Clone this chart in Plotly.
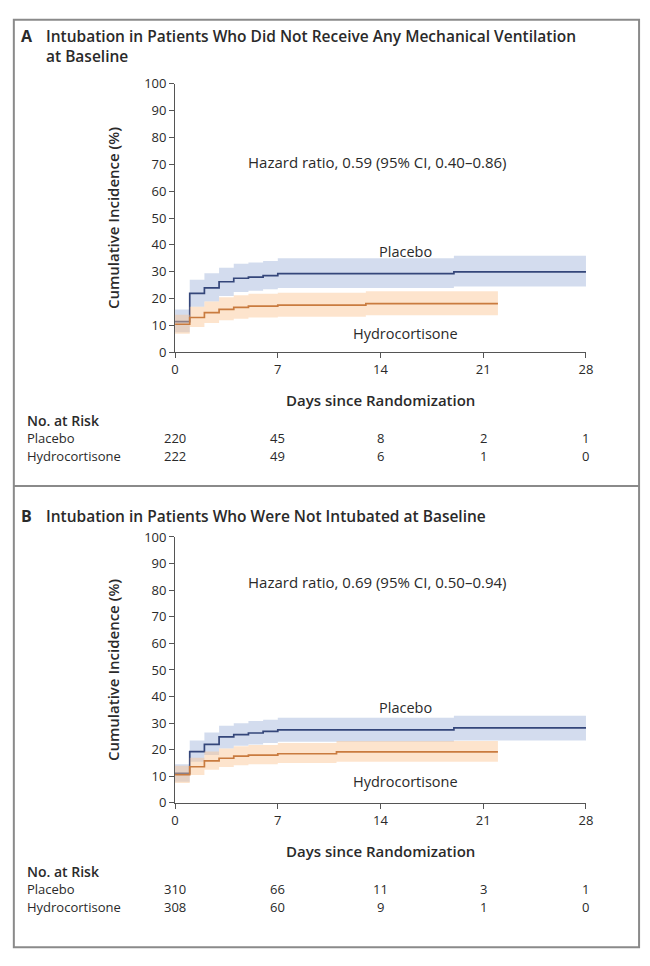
import plotly.graph_objects as go

W, H = 650, 966

# ---------------- DATA ----------------
days_ticks = [0, 7, 14, 21, 28]
y_ticks = [0, 10, 20, 30, 40, 50, 60, 70, 80, 90, 100]

# Panel A
a_plac_t = [0, 1, 2, 3, 4, 5, 6, 7, 19, 28]
a_plac_y = [11.5, 22.0, 24.0, 26.3, 27.6, 28.0, 28.6, 29.3, 30.0, 30.0]
a_plac_lo = [7.5, 17.0, 19.0, 21.0, 22.5, 23.0, 23.5, 24.0, 24.5, 24.5]
a_plac_hi = [16.0, 27.0, 29.5, 31.5, 33.0, 33.5, 34.0, 35.0, 36.0, 36.0]

a_hydro_t = [0, 1, 2, 3, 4, 5, 7, 13, 22]
a_hydro_y = [10.5, 13.0, 14.8, 16.0, 16.8, 17.2, 17.6, 18.2, 18.2]
a_hydro_lo = [7.0, 9.5, 11.0, 12.0, 12.5, 13.0, 13.3, 13.8, 13.8]
a_hydro_hi = [14.0, 17.0, 19.0, 20.5, 21.3, 21.8, 22.2, 22.8, 22.8]

# Panel B
b_plac_t = [0, 1, 2, 3, 4, 5, 6, 7, 19, 28]
b_plac_y = [11.1, 19.3, 22.0, 24.8, 25.7, 26.3, 26.9, 27.5, 28.2, 28.2]
b_plac_lo = [8.0, 15.5, 18.0, 20.5, 21.5, 22.0, 22.5, 23.0, 23.5, 23.5]
b_plac_hi = [14.5, 23.5, 26.5, 29.0, 30.0, 30.8, 31.3, 32.0, 32.8, 32.8]

b_hydro_t = [0, 1, 2, 3, 4, 5, 7, 11, 22]
b_hydro_y = [10.6, 13.6, 15.8, 16.8, 17.6, 18.0, 18.5, 19.2, 19.2]
b_hydro_lo = [7.5, 10.5, 12.5, 13.5, 14.2, 14.5, 15.0, 15.5, 15.5]
b_hydro_hi = [14.0, 17.0, 19.3, 20.5, 21.3, 21.8, 22.5, 23.3, 23.3]

risk_days = [0, 7, 14, 21, 28]
a_risk_plac = [220, 45, 8, 2, 1]
a_risk_hydro = [222, 49, 6, 1, 0]
b_risk_plac = [310, 66, 11, 3, 1]
b_risk_hydro = [308, 60, 9, 1, 0]

title_a = ["Intubation in Patients Who Did Not Receive Any Mechanical Ventilation", "at Baseline"]
title_b = "Intubation in Patients Who Were Not Intubated at Baseline"
hr_a = "Hazard ratio, 0.59 (95% CI, 0.40–0.86)"
hr_b = "Hazard ratio, 0.69 (95% CI, 0.50–0.94)"

# ---------------- STYLE ----------------
FONT = "Open Sans"
TXT = "#2a2a2a"
PLAC_LINE = "#34467a"
PLAC_FILL = "rgba(150,172,215,0.42)"
HYD_LINE = "#c97b3f"
HYD_FILL = "rgba(250,196,145,0.45)"
AX = "#555555"


def px(x):
    return x / W


def py(y):
    return 1 - y / H


fig = go.Figure()


def add_series(t, y, lo, hi, line_c, fill_c, xa, ya):
    fig.add_trace(go.Scatter(x=t, y=lo, mode="lines", line=dict(width=0, shape="hv"),
                             hoverinfo="skip", showlegend=False, xaxis=xa, yaxis=ya))
    fig.add_trace(go.Scatter(x=t, y=hi, mode="lines", line=dict(width=0, shape="hv"),
                             fill="tonexty", fillcolor=fill_c, hoverinfo="skip",
                             showlegend=False, xaxis=xa, yaxis=ya))
    fig.add_trace(go.Scatter(x=t, y=y, mode="lines", line=dict(color=line_c, width=1.7, shape="hv"),
                             showlegend=False, xaxis=xa, yaxis=ya))


add_series(a_plac_t, a_plac_y, a_plac_lo, a_plac_hi, PLAC_LINE, PLAC_FILL, "x", "y")
add_series(a_hydro_t, a_hydro_y, a_hydro_lo, a_hydro_hi, HYD_LINE, HYD_FILL, "x", "y")
add_series(b_plac_t, b_plac_y, b_plac_lo, b_plac_hi, PLAC_LINE, PLAC_FILL, "x2", "y2")
add_series(b_hydro_t, b_hydro_y, b_hydro_lo, b_hydro_hi, HYD_LINE, HYD_FILL, "x2", "y2")

xdom = [px(174), px(592)]
risk_dom = [px(171), px(618)]
ydom_a = [py(350), py(76)]
ydom_b = [py(809), py(538)]

xaxis_common = dict(range=[0, 28], tickvals=days_ticks, showgrid=False, zeroline=False,
                    showline=True, linecolor=AX, linewidth=1, ticks="outside", ticklen=5,
                    tickcolor=AX, tickfont=dict(family=FONT, size=13, color=TXT), fixedrange=True)
yaxis_common = dict(range=[0, 100], tickvals=y_ticks, showgrid=False, zeroline=False,
                    showline=True, linecolor=AX, linewidth=1, ticks="outside", ticklen=5,
                    tickcolor=AX, tickfont=dict(family=FONT, size=13, color=TXT), fixedrange=True,
                    title=dict(text="Cumulative Incidence (%)", standoff=20,
                               font=dict(family=FONT, size=15, color=TXT, weight=600)))
hidden = dict(range=[0, 28], visible=False, showgrid=False, zeroline=False, fixedrange=True,
              domain=risk_dom)

fig.update_layout(
    width=W, height=H, autosize=False,
    margin=dict(l=0, r=0, t=0, b=0),
    paper_bgcolor="white", plot_bgcolor="white",
    xaxis=dict(domain=xdom, anchor="y", **xaxis_common),
    yaxis=dict(domain=ydom_a, anchor="x", **yaxis_common),
    xaxis2=dict(domain=xdom, anchor="y2", **xaxis_common),
    yaxis2=dict(domain=ydom_b, anchor="x2", **yaxis_common),
    xaxis3=dict(anchor="y", overlaying="x", **hidden),
)

ann = []


def text(x, y, s, size=14, bold=False, xanchor="left", xref="paper", yref="paper", weight=None,
         yanchor="middle"):
    w = weight if weight else (600 if bold else 400)
    ann.append(dict(x=x, y=y, xref=xref, yref=yref, text=s, showarrow=False,
                    xanchor=xanchor, yanchor=yanchor, borderpad=0, align="left",
                    font=dict(family=FONT, size=size, color=TXT, weight=w)))


# Panel titles
text(px(16), py(28), "A", size=16, weight=700)
text(px(42), py(15), "<br>".join(title_a), size=15.5, bold=True, yanchor="top")
text(px(16), py(517), "B", size=16, weight=700)
text(px(42), py(517), title_b, size=15.5, bold=True)

# in-plot labels
text(13.8, 71, hr_a, size=15, xanchor="center", xref="x", yref="y")
text(15.7, 37.5, "Placebo", size=14.5, xanchor="center", xref="x", yref="y")
text(15.7, 7, "Hydrocortisone", size=14.5, xanchor="center", xref="x", yref="y")
text(13.8, 83, hr_b, size=15, xanchor="center", xref="x2", yref="y2")
text(15.7, 36, "Placebo", size=14.5, xanchor="center", xref="x2", yref="y2")
text(15.7, 8, "Hydrocortisone", size=14.5, xanchor="center", xref="x2", yref="y2")

# x-axis titles (centred over the risk table columns)
text(14, py(398), "Days since Randomization", size=15, bold=True, xanchor="center", xref="x3")
text(14, py(858), "Days since Randomization", size=15, bold=True, xanchor="center", xref="x3")


def risk_table(y0, plac, hydro):
    text(px(22), py(y0), "No. at Risk", size=14, bold=True)
    text(px(22), py(y0 + 18), "Placebo", size=13)
    text(px(22), py(y0 + 36), "Hydrocortisone", size=13)
    for d, p, h in zip(risk_days, plac, hydro):
        text(d, py(y0 + 18), str(p), size=13, xanchor="center", xref="x3")
        text(d, py(y0 + 36), str(h), size=13, xanchor="center", xref="x3")


risk_table(419, a_risk_plac, a_risk_hydro)
risk_table(879, b_risk_plac, b_risk_hydro)

fig.update_layout(annotations=ann)

# frame lines
FR = "#8a8a8a"
shapes = [
    dict(type="rect", xref="paper", yref="paper", x0=px(10), x1=px(646), y0=py(956), y1=py(11),
         line=dict(color=FR, width=2), fillcolor="rgba(0,0,0,0)", layer="below"),
    dict(type="line", xref="paper", yref="paper", x0=px(10), x1=px(646), y0=py(486), y1=py(486),
         line=dict(color=FR, width=2), layer="below"),
]
fig.update_layout(shapes=shapes)

fig.write_html("out.html", config={"displayModeBar": False},
               post_script="document.body.style.margin='0';document.body.style.padding='0';"
                           "document.body.style.overflow='hidden';")
